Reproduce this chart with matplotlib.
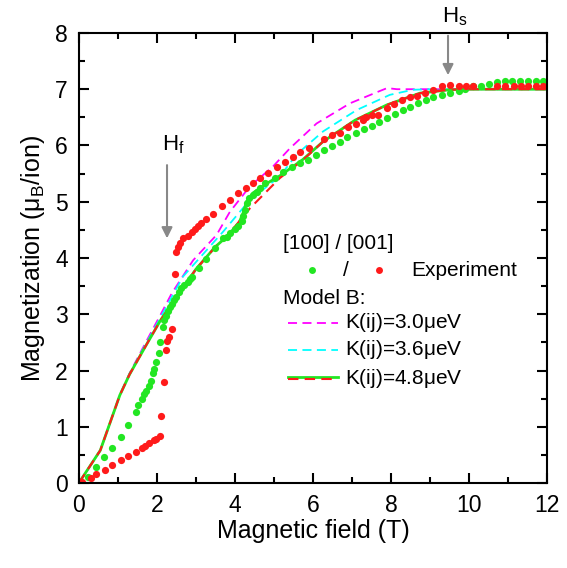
import numpy as np
import matplotlib.pyplot as plt

plt.rcParams['font.family'] = ['Liberation Sans', 'DejaVu Sans']

# Experiment [100] (green dots)
h100 = [0.24, 0.45, 0.65, 0.84, 1.07, 1.26, 1.46, 1.52, 1.61, 1.67, 1.73, 1.79, 1.85, 1.89,
        1.92, 1.97, 2.05, 2.08, 2.15, 2.19, 2.23, 2.29, 2.33, 2.38, 2.44, 2.50, 2.56, 2.63,
        2.70, 2.79, 2.85, 2.91, 3.08, 3.27, 3.50, 3.70, 3.79, 3.87, 4.00, 4.08, 4.17, 4.21,
        4.26, 4.30, 4.37, 4.47, 4.56, 4.64, 4.77, 5.03, 5.24, 5.45, 5.67, 5.88, 6.09, 6.28,
        6.48, 6.69, 6.88, 7.10, 7.31, 7.50, 7.70, 7.89, 8.10, 8.30, 8.49, 8.70, 8.90, 9.08,
        9.30, 9.51, 9.73, 9.90, 10.11, 10.31, 10.52, 10.71, 10.91, 11.11, 11.31, 11.52,
        11.72, 11.90]
m100 = [0.11, 0.29, 0.46, 0.62, 0.81, 1.03, 1.26, 1.39, 1.49, 1.58, 1.64, 1.72, 1.82, 1.95,
        2.02, 2.16, 2.31, 2.51, 2.78, 2.89, 2.96, 3.05, 3.13, 3.19, 3.25, 3.31, 3.40, 3.46,
        3.52, 3.58, 3.62, 3.67, 3.82, 3.99, 4.17, 4.35, 4.38, 4.44, 4.51, 4.57, 4.65, 4.74,
        4.85, 4.97, 5.06, 5.12, 5.18, 5.24, 5.33, 5.42, 5.52, 5.62, 5.68, 5.75, 5.83, 5.92,
        5.99, 6.07, 6.15, 6.22, 6.29, 6.35, 6.42, 6.49, 6.56, 6.63, 6.69, 6.75, 6.80, 6.86,
        6.90, 6.93, 6.97, 7.00, 7.05, 7.06, 7.09, 7.12, 7.14, 7.14, 7.14, 7.14, 7.14, 7.14]

# Experiment [001] (red dots)
h001 = [0.08, 0.31, 0.45, 0.67, 0.86, 1.07, 1.26, 1.46, 1.61, 1.69, 1.79, 1.92, 1.99, 2.08,
        2.10, 2.18, 2.23, 2.26, 2.32, 2.39, 2.46, 2.50, 2.55, 2.59, 2.67, 2.79, 2.89, 2.97,
        3.06, 3.13, 3.27, 3.44, 3.66, 3.87, 4.07, 4.28, 4.47, 4.64, 4.85, 5.07, 5.28, 5.48,
        5.68, 5.91, 6.27, 6.48, 6.69, 6.91, 7.10, 7.27, 7.37, 7.50, 7.67, 7.89, 8.08, 8.29,
        8.49, 8.66, 8.87, 9.08, 9.30, 9.51, 9.75, 9.92, 10.11, 10.71, 10.92, 11.14, 11.33,
        11.52, 11.72, 11.90]
m001 = [0.02, 0.09, 0.16, 0.23, 0.32, 0.41, 0.48, 0.56, 0.62, 0.66, 0.71, 0.76, 0.79, 0.84,
        1.19, 1.80, 2.36, 2.53, 2.60, 2.73, 3.72, 4.11, 4.20, 4.26, 4.35, 4.39, 4.47, 4.51,
        4.57, 4.62, 4.69, 4.79, 4.92, 5.03, 5.15, 5.24, 5.34, 5.43, 5.51, 5.61, 5.71, 5.79,
        5.88, 5.95, 6.11, 6.18, 6.23, 6.33, 6.39, 6.45, 6.51, 6.55, 6.54, 6.67, 6.74, 6.81,
        6.86, 6.88, 6.93, 6.99, 7.06, 7.08, 7.05, 7.05, 7.06, 7.06, 7.06, 7.06, 7.06, 7.06,
        7.06, 7.06]

# Model B curves
hk30 = [0, 0.55, 1.05, 1.3, 1.7, 2.1, 2.38, 2.93, 3.53, 3.87, 4.38, 4.98, 5.41, 6.09, 6.95,
        7.72, 7.9, 8.15, 9.0, 10.0, 12.0]
mk30 = [0, 0.58, 1.56, 1.95, 2.48, 3.0, 3.37, 3.96, 4.41, 4.82, 5.27, 5.63, 5.95, 6.39, 6.75,
        6.97, 7.02, 7.0, 7.0, 7.0, 7.0]
hk36 = [0, 0.55, 1.05, 1.3, 1.7, 2.1, 2.67, 3.7, 4.38, 5.15, 5.58, 6.26, 7.12, 7.97, 8.56,
        9.0, 10.0, 12.0]
mk36 = [0, 0.58, 1.56, 1.93, 2.45, 2.95, 3.67, 4.47, 5.03, 5.45, 5.84, 6.25, 6.63, 6.9, 6.99,
        7.0, 7.0, 7.0]
hk48 = [0, 0.55, 1.05, 1.3, 1.7, 2.1, 2.5, 3.0, 3.5, 3.79, 4.38, 5.15, 5.74, 6.26, 7.08,
        7.89, 8.74, 9.5, 10.0, 12.0]
mk48 = [0, 0.58, 1.56, 1.93, 2.42, 2.9, 3.3, 3.8, 4.2, 4.38, 4.88, 5.42, 5.74, 6.07, 6.45,
        6.72, 6.93, 6.99, 7.0, 7.0]
hk48g = [0, 0.55, 1.05, 1.3, 1.7, 2.1, 2.5, 3.0, 3.5, 3.79, 4.1, 4.2, 4.3, 4.47, 4.9, 5.15,
         5.74, 6.26, 7.08, 7.89, 8.74, 9.5, 10.0, 12.0]
mk48g = [0, 0.58, 1.56, 1.93, 2.42, 2.9, 3.3, 3.8, 4.2, 4.38, 4.62, 4.78, 5.0, 5.16, 5.36,
         5.46, 5.75, 6.07, 6.45, 6.72, 6.93, 6.99, 7.0, 7.0]

green = '#22e622'
red = '#ff1a1a'
magenta = '#ff00ff'
cyan = '#00ffff'

fig = plt.figure(figsize=(5.67, 5.68), dpi=100)
ax = fig.add_axes([0.139, 0.1496, 0.826, 0.7924])

ax.plot(hk30, mk30, color=magenta, lw=1.3, dashes=(5, 3))
ax.plot(hk36, mk36, color=cyan, lw=1.3, dashes=(5, 3))
ax.plot(hk48g, mk48g, color=green, lw=2.0)
ax.plot(hk48, mk48, color=red, lw=1.5, dashes=(5, 3))

ax.plot(h100, m100, 'o', color=green, ms=5.2, mec='none')
ax.plot(h001, m001, 'o', color=red, ms=5.2, mec='none')

# arrows
ax.annotate('', xy=(2.26, 4.3), xytext=(2.26, 5.7),
            arrowprops=dict(arrowstyle='-|>', color='#888888', lw=1.5, mutation_scale=16))
ax.text(2.13, 5.92, r'H$_\mathregular{f}$', fontsize=16)
ax.annotate('', xy=(9.46, 7.2), xytext=(9.46, 8.0), annotation_clip=False,
            arrowprops=dict(arrowstyle='-|>', color='#888888', lw=1.5, mutation_scale=16))
ax.text(9.31, 8.18, r'H$_\mathregular{s}$', fontsize=16, clip_on=False)

# manual legend
tr = ax.transAxes
fs = 15
ax.text(0.436, 0.533, '[100] / [001]', transform=tr, fontsize=fs, va='center')
ax.plot([0.498], [0.473], 'o', color=green, ms=5, mec='none', transform=tr)
ax.text(0.571, 0.473, '/', transform=tr, fontsize=fs, va='center', ha='center')
ax.plot([0.641], [0.473], 'o', color=red, ms=5, mec='none', transform=tr)
ax.text(0.709, 0.473, 'Experiment', transform=tr, fontsize=fs, va='center')
ax.text(0.436, 0.411, 'Model B:', transform=tr, fontsize=fs, va='center')
ax.plot([0.447, 0.553], [0.356, 0.356], color=magenta, lw=1.3, dashes=(5, 3), transform=tr)
ax.plot([0.447, 0.553], [0.296, 0.296], color=cyan, lw=1.3, dashes=(5, 3), transform=tr)
ax.plot([0.447, 0.553], [0.236, 0.236], color=green, lw=2.0, transform=tr)
ax.plot([0.447, 0.553], [0.231, 0.231], color=red, lw=1.5, dashes=(5, 3), transform=tr)
ax.text(0.568, 0.356, r'K(ij)=3.0$\mathregular{\mu}$eV', transform=tr, fontsize=fs, va='center')
ax.text(0.568, 0.296, r'K(ij)=3.6$\mathregular{\mu}$eV', transform=tr, fontsize=fs, va='center')
ax.text(0.568, 0.233, r'K(ij)=4.8$\mathregular{\mu}$eV', transform=tr, fontsize=fs, va='center')

ax.set_xlim(0, 12)
ax.set_ylim(0, 8)
ax.set_xticks(np.arange(0, 13, 2))
ax.set_xticks(np.arange(1, 12, 2), minor=True)
ax.set_yticks(np.arange(0, 9, 1))
ax.set_yticks(np.arange(0.5, 8, 1), minor=True)
ax.tick_params(which='both', direction='in', top=True, right=True, labelsize=16.5, width=1.5)
ax.tick_params(which='major', length=7, pad=8)
ax.tick_params(which='minor', length=4, pad=8)
for s in ax.spines.values():
    s.set_linewidth(1.5)

ax.set_xlabel('Magnetic field (T)', fontsize=18, labelpad=1)
ax.set_ylabel(r'Magnetization ($\mathregular{\mu_B}$/ion)', fontsize=18, labelpad=6)

fig.savefig('out.png', dpi=100)
